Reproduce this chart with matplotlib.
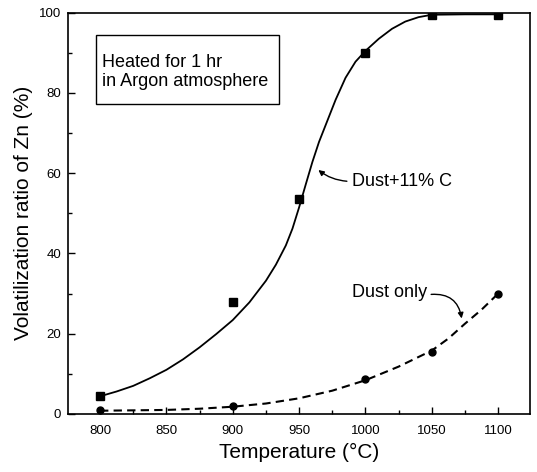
import matplotlib
matplotlib.use("Agg")
import matplotlib.pyplot as plt
from matplotlib.patches import Rectangle
from matplotlib.ticker import MultipleLocator

plt.rcParams['font.family'] = ['Liberation Sans', 'DejaVu Sans']

# measured points
temp = [800, 900, 950, 1000, 1050, 1100]
carbon = [4.5, 28.0, 53.5, 90.0, 99.5, 99.5]
dust = [0.9, 2.0, None, 8.7, 15.5, 30.0]

# fitted curves
fit_c_t = [800, 812.5, 825, 837.5, 850, 862.5, 875, 887.5, 900, 912.5, 925, 932.5,
           940, 945, 950, 955, 960, 965, 970, 977.5, 985, 992.5, 1000, 1010, 1020,
           1030, 1040, 1050, 1075, 1100]
fit_c_v = [4.4, 5.6, 7.0, 8.9, 11.0, 13.6, 16.6, 19.9, 23.4, 27.8, 33.2, 37.2,
           42.0, 46.2, 51.5, 57.2, 62.8, 67.8, 72.0, 78.3, 83.8, 87.8, 90.5, 93.5,
           96.0, 97.8, 98.9, 99.5, 99.6, 99.6]
fit_d_t = [800, 825, 850, 875, 900, 925, 950, 975, 1000, 1025, 1050, 1062.5,
           1075, 1087.5, 1100]
fit_d_v = [0.8, 0.9, 1.0, 1.3, 1.8, 2.6, 3.9, 5.8, 8.4, 11.8, 15.8, 18.8,
           22.5, 26.0, 30.0]

fig = plt.figure(figsize=(5.37, 4.72), dpi=100)
ax = fig.add_axes([0.127, 0.123, 0.86, 0.85])

ax.plot(fit_c_t, fit_c_v, color='black', lw=1.3)
ax.plot(fit_d_t, fit_d_v, color='black', lw=1.5, dashes=(4, 2.5))
ax.plot(temp, carbon, 's', color='black', ms=5.5)
dt = [t for t, v in zip(temp, dust) if v is not None]
dv = [v for v in dust if v is not None]
ax.plot(dt, dv, 'o', color='black', ms=5)

ax.set_xlim(776, 1124)
ax.set_ylim(0, 100)
ax.xaxis.set_major_locator(MultipleLocator(50))
ax.xaxis.set_minor_locator(MultipleLocator(25))
ax.yaxis.set_major_locator(MultipleLocator(20))
ax.yaxis.set_minor_locator(MultipleLocator(10))
ax.tick_params(which='both', direction='in', top=False, right=False, labelsize=9.5)
ax.tick_params(which='major', length=5, width=1)
ax.tick_params(which='minor', length=3, width=1)
ax.tick_params(axis='x', pad=8)
ax.tick_params(axis='y', pad=5)
for s in ax.spines.values():
    s.set_linewidth(1.2)

ax.set_xlabel('Temperature (°C)', fontsize=15, labelpad=4)
ax.set_ylabel('Volatilization ratio of Zn (%)', fontsize=15, labelpad=4)

# condition box
ax.add_patch(Rectangle((797, 77.3), 138, 17.2, fill=False, ec='black', lw=1))
ax.text(801.5, 85.3, 'Heated for 1 hr\nin Argon atmosphere', fontsize=13,
        va='center', ha='left', linespacing=1.15)

# curve labels
ax.text(990, 57.9, 'Dust+11% C', fontsize=13, va='center', ha='left')
ax.annotate('', xy=(964.5, 60.8), xytext=(986, 58.0),
            arrowprops=dict(arrowstyle='-|>', color='black', lw=1,
                            connectionstyle='arc3,rad=-0.15', mutation_scale=8,
                            shrinkA=0, shrinkB=0))
ax.text(990, 30.3, 'Dust only', fontsize=13, va='center', ha='left')
ax.annotate('', xy=(1072.5, 23.8), xytext=(1049.5, 29.8),
            arrowprops=dict(arrowstyle='-|>', color='black', lw=1,
                            connectionstyle='arc3,rad=-0.45', mutation_scale=8,
                            shrinkA=0, shrinkB=0))

fig.savefig('out.png', dpi=100)
